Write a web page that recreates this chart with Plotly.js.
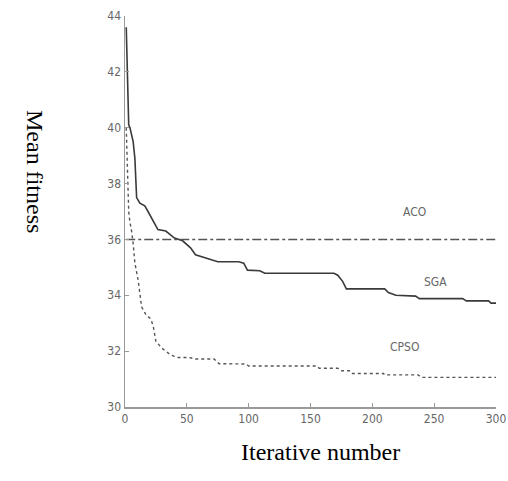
<!DOCTYPE html>
<html>
<head>
<meta charset="utf-8">
<script src="https://cdn.plot.ly/plotly-3.0.1.min.js"></script>
<style>html,body{margin:0;padding:0;background:#fff;}#chart{width:508px;height:481px;}</style>
</head>
<body>
<div id="chart"></div>
<script>
// Iteration numbers and mean fitness values
const sgaIter = [1, 2, 3, 4, 6.6, 8, 9.4, 12, 16, 18.6, 22.6, 26.6, 33, 40, 46.6, 53, 57, 65, 75, 92, 96, 99, 109, 113, 169, 172, 176, 179, 210, 213, 219, 235, 238, 273, 276, 294, 296, 300];
const sgaVal  = [43.6, 41.5, 40.1, 40.0, 39.5, 38.9, 37.5, 37.3, 37.2, 37.0, 36.7, 36.35, 36.3, 36.05, 35.95, 35.7, 35.45, 35.33, 35.2, 35.2, 35.15, 34.9, 34.88, 34.79, 34.79, 34.72, 34.5, 34.23, 34.23, 34.1, 34.0, 33.97, 33.88, 33.88, 33.8, 33.8, 33.72, 33.72];

const acoIter = [1, 300];
const acoVal  = [36.0, 36.0];

const cpsoIter = [1, 2, 3, 4, 5, 6.6, 8, 10.6, 13.4, 17, 21, 23, 25, 30, 37, 43, 52, 57, 72, 76, 98, 100, 155, 157, 172, 175, 182, 184, 209, 210, 237, 240, 300];
const cpsoVal  = [40.0, 38.3, 37.0, 36.6, 36.4, 35.86, 35.15, 34.55, 33.59, 33.3, 33.15, 32.85, 32.35, 32.1, 31.86, 31.77, 31.77, 31.72, 31.72, 31.55, 31.54, 31.47, 31.47, 31.39, 31.39, 31.3, 31.3, 31.2, 31.2, 31.15, 31.15, 31.06, 31.06];

const xTicks = [0, 50, 100, 150, 200, 250, 300];
const yTicks = [30, 32, 34, 36, 38, 40, 42, 44];

const seriesNames = ['SGA', 'ACO', 'CPSO'];
const labelX = [251, 234, 226];
const labelY = [34.48, 37.0, 32.15];

const traces = [
  {x: sgaIter, y: sgaVal, name: 'SGA', mode: 'lines', line: {color: '#3a3a3a', width: 1.6, shape: 'linear'}},
  {x: acoIter, y: acoVal, name: 'ACO', mode: 'lines', line: {color: '#555', width: 1.6, dash: 'dashdot'}},
  {x: cpsoIter, y: cpsoVal, name: 'CPSO', mode: 'lines', line: {color: '#555', width: 1.4, dash: 'dot'}}
];

const annotations = seriesNames.map((n, i) => ({
  x: labelX[i], y: labelY[i], xref: 'x', yref: 'y', text: n, showarrow: false,
  font: {family: 'Liberation Sans Narrow, DejaVu Sans Condensed, Liberation Sans', size: 12, color: '#666'}
}));
annotations.push({
  x: 320, y: 467, xref: 'paper', yref: 'paper', text: 'Iterative number', showarrow: false,
  font: {family: 'Liberation Serif, Times New Roman, serif', size: 24, color: '#000'}
});
annotations.push({
  x: 20, y: 171, text: 'Mean fitness', textangle: 90, showarrow: false,
  font: {family: 'Liberation Serif, Times New Roman, serif', size: 24, color: '#000'}
});

// convert the pixel-placed titles to paper coordinates
const W = 508, H = 481, mL = 125, mR = 12, mT = 16, mB = 74;
const pw = W - mL - mR, ph = H - mT - mB;
annotations[3].x = (320 - mL) / pw; annotations[3].y = (H - mB - 467) / ph;
annotations[4].xref = 'paper'; annotations[4].yref = 'paper';
annotations[4].x = (20 - mL) / pw; annotations[4].y = (H - mB - 171) / ph;

const tickFont = {family: 'Liberation Sans Narrow, DejaVu Sans Condensed, Liberation Sans', size: 12, color: '#666'};

const layout = {
  width: W, height: H,
  margin: {l: mL, r: mR, t: mT, b: mB, pad: 0},
  paper_bgcolor: '#fff', plot_bgcolor: '#fff',
  showlegend: false,
  xaxis: {
    range: [0, 300], tickvals: xTicks, ticktext: xTicks.map(String),
    showgrid: false, zeroline: false, showline: true, linecolor: '#999', linewidth: 1.5,
    ticks: 'inside', ticklen: 4, tickcolor: '#999', tickfont: tickFont, mirror: false,
    ticklabeloverflow: 'allow'
  },
  yaxis: {
    range: [30, 44], tickvals: yTicks, ticktext: yTicks.map(String),
    showgrid: false, zeroline: false, showline: true, linecolor: '#999', linewidth: 1.5,
    ticks: 'inside', ticklen: 4, tickcolor: '#999', tickfont: tickFont, mirror: false,
    ticklabeloverflow: 'allow'
  },
  annotations: annotations
};

Plotly.newPlot('chart', traces, layout, {staticPlot: true, displayModeBar: false});
</script>
</body>
</html>
